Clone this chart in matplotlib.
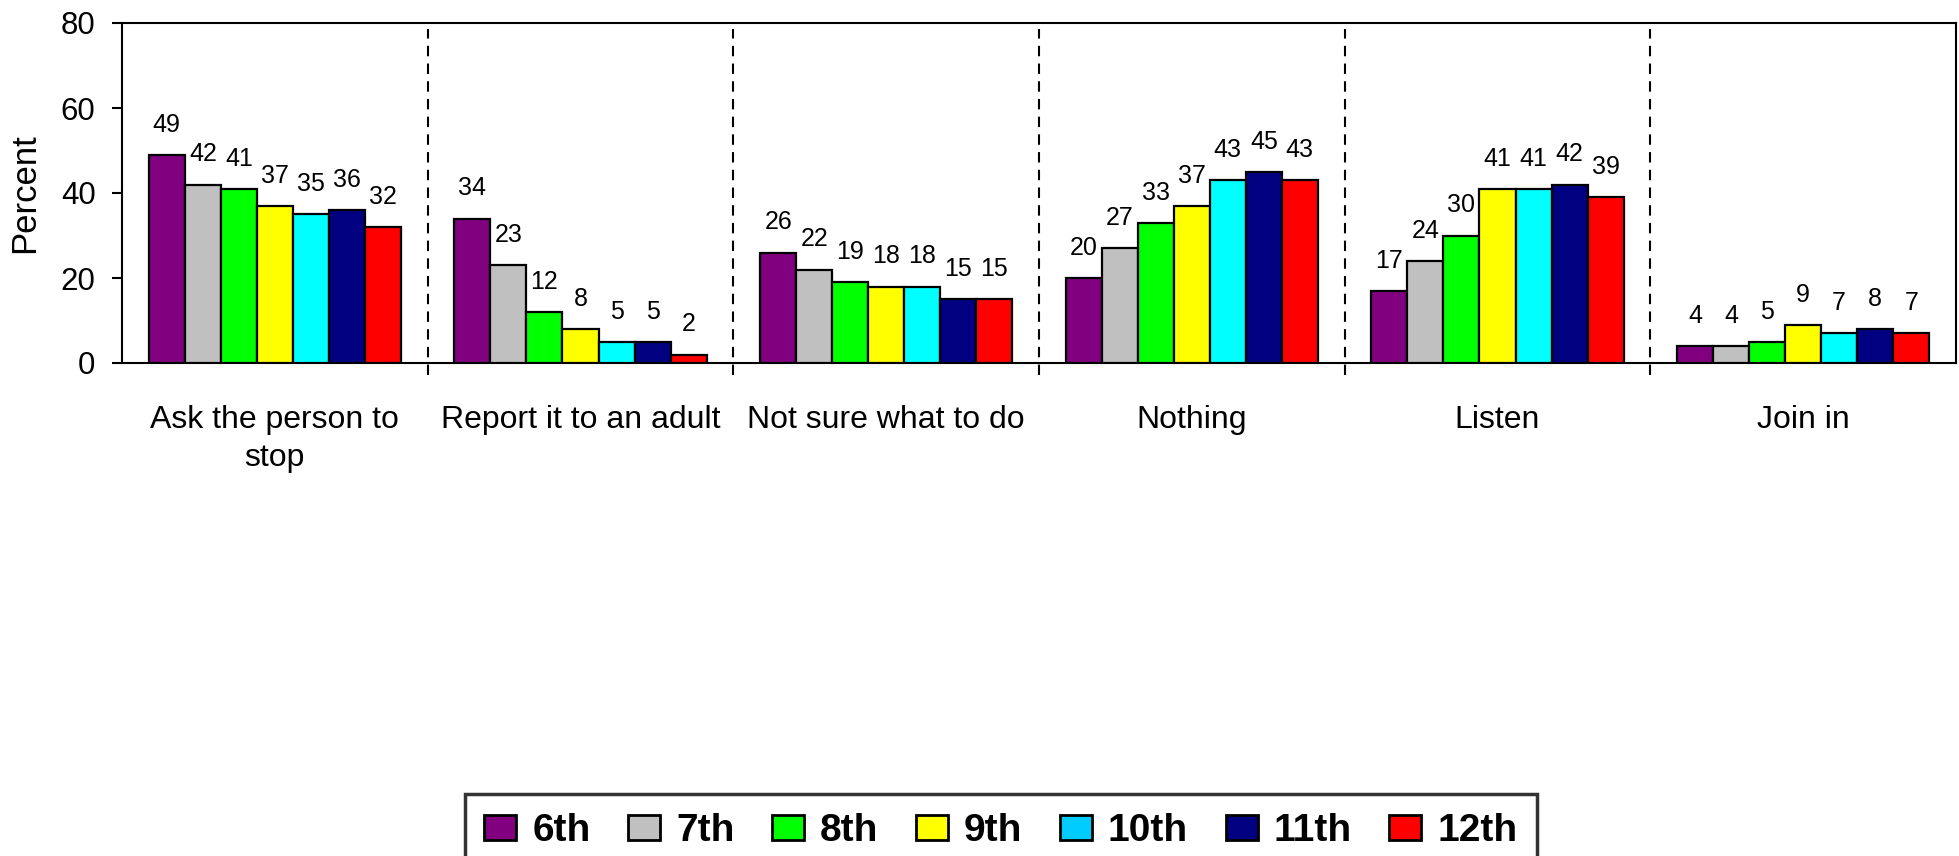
import matplotlib
matplotlib.use("Agg")
import matplotlib.pyplot as plt
import numpy as np
from matplotlib.patches import Patch

plt.rcParams['font.family'] = ['Liberation Sans', 'DejaVu Sans']

categories = ["Ask the person to\nstop", "Report it to an adult", "Not sure what to do",
              "Nothing", "Listen", "Join in"]
grades = ["6th", "7th", "8th", "9th", "10th", "11th", "12th"]
g6 = [49, 34, 26, 20, 17, 4]
g7 = [42, 23, 22, 27, 24, 4]
g8 = [41, 12, 19, 33, 30, 5]
g9 = [37, 8, 18, 37, 41, 9]
g10 = [35, 5, 18, 43, 41, 7]
g11 = [36, 5, 15, 45, 42, 8]
g12 = [32, 2, 15, 43, 39, 7]
series = [g6, g7, g8, g9, g10, g11, g12]
colors = ["#800080", "#C0C0C0", "#00FF00", "#FFFF00", "#00FFFF", "#000080", "#FF0000"]
legend_colors = ["#800080", "#C0C0C0", "#00FF00", "#FFFF00", "#00CCFF", "#000080", "#FF0000"]

fig = plt.figure(figsize=(19.59, 8.56), dpi=100)
ax = fig.add_axes([122/1959, 1-363/856, (1956-122)/1959, 340/856])

x = np.arange(len(categories))
bw = 0.1178
n = len(series)
for i, (vals, c) in enumerate(zip(series, colors)):
    pos = x + (i - (n-1)/2) * bw
    bars = ax.bar(pos, vals, width=bw, color=c, edgecolor="black", linewidth=1.6, zorder=3)
    for b, v in zip(bars, vals):
        ax.annotate(str(v), (b.get_x() + b.get_width()/2, b.get_height()),
                    xytext=(0, 13), textcoords="offset points",
                    ha="center", va="bottom", fontsize=18)

ax.set_xlim(-0.5, len(categories)-0.5)
ax.set_ylim(0, 80)
ax.set_yticks([0, 20, 40, 60, 80])
ax.tick_params(axis='y', labelsize=22.5, length=7, width=1.5, pad=12)
ax.set_xticks(x)
ax.set_xticklabels(categories, fontsize=23, linespacing=1.35)
ax.tick_params(axis='x', length=0, pad=30)
ax.set_ylabel("Percent", fontsize=25, labelpad=14)
for s in ax.spines.values():
    s.set_linewidth(1.5)
    s.set_color("black")

for k in range(len(categories)-1):
    ax.axvline(k + 0.5, ymin=-0.035, ymax=0.982, color="black", linestyle=(0, (5, 3.5)),
               linewidth=1.5, clip_on=False, zorder=1)

handles = [Patch(facecolor=c, edgecolor="black", linewidth=2) for c in legend_colors]
leg = fig.legend(handles, grades, loc="upper left", bbox_to_anchor=(465/1959, 1-794/856),
                 borderaxespad=0, ncol=7, frameon=True, fancybox=False,
                 prop={'weight': 'bold', 'size': 28},
                 handlelength=0.82, handleheight=0.6, handletextpad=0.41, columnspacing=0.97,
                 borderpad=0.5, edgecolor="black")
leg.get_frame().set_linewidth(2.5)

fig.savefig("out.png", dpi=100)
